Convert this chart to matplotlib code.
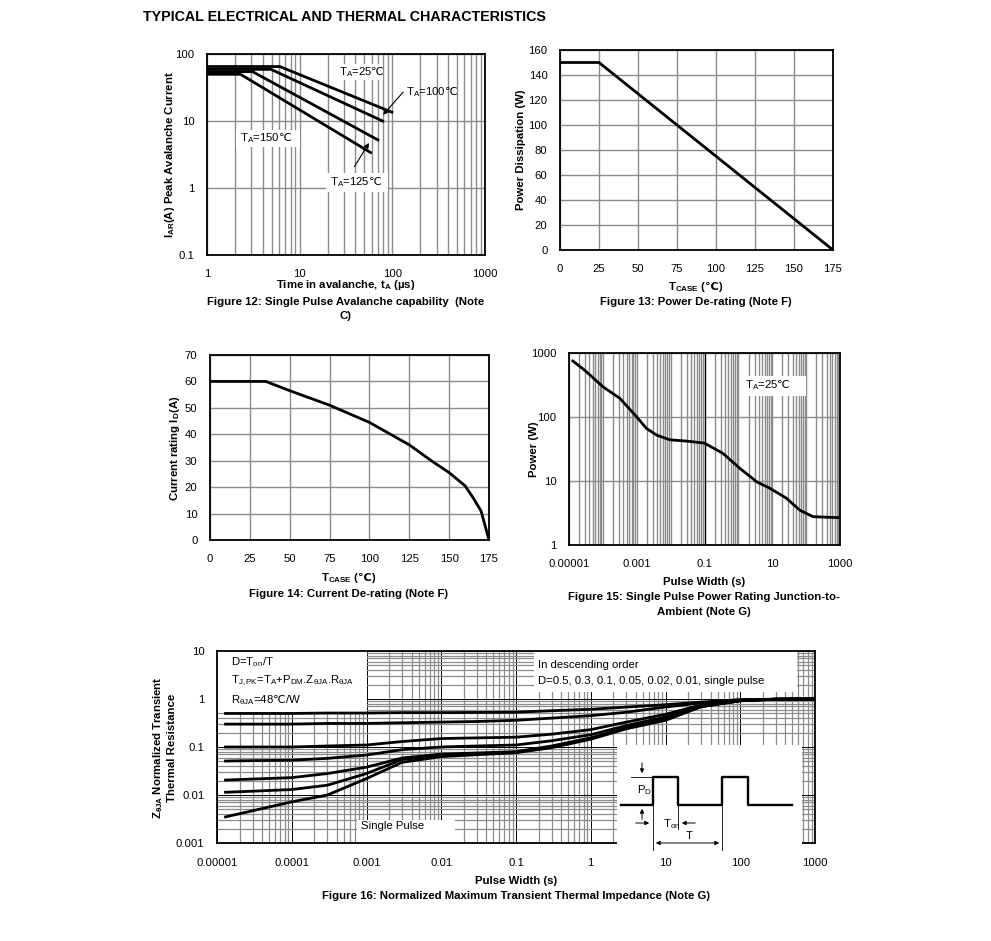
import numpy as np
import matplotlib
matplotlib.use('Agg')
import matplotlib.pyplot as plt
from matplotlib.ticker import LogLocator, NullFormatter
from matplotlib.patches import Rectangle

plt.rcParams['font.family'] = ['Liberation Sans', 'DejaVu Sans']
plt.rcParams['mathtext.fontset'] = 'custom'
plt.rcParams['mathtext.rm'] = 'Liberation Sans'
plt.rcParams['mathtext.bf'] = 'Liberation Sans:bold'
plt.rcParams['mathtext.it'] = 'Liberation Sans:italic'
# degree-celsius sign lives in DejaVu: tt = regular, sf = bold
plt.rcParams['mathtext.tt'] = 'DejaVu Sans'
plt.rcParams['mathtext.sf'] = 'DejaVu Sans:bold'
DEG = r'$\mathtt{℃}$'
DEG_B = r'$\mathsf{℃}$'

# ---- data ----
# Fig 12: avalanche current vs time
ta25_t = [1, 6.1, 102]
ta25_i = [65, 65, 13.3]
ta100_t = [1, 4.9, 81]
ta100_i = [59, 59, 9.8]
ta125_t = [1, 3.1, 72]
ta125_i = [54.5, 54.5, 5.1]
ta150_t = [1, 2.3, 60]
ta150_i = [49.8, 49.8, 3.3]

# Fig 13: power de-rating
pd_tcase = [0, 25, 175]
pd_watts = [150, 150, 0]

# Fig 14: current de-rating
id_tcase = [0, 35, 50, 75, 100, 125, 140, 150, 160, 165, 170, 175]
id_amps = [60, 60, 56.5, 51, 44.5, 36, 29.5, 25.5, 20.5, 16, 11, 0]

# Fig 15: single pulse power
sp_width = [1.3e-5, 3e-5, 1e-4, 3.2e-4, 1e-3, 1.95e-3, 3.9e-3, 9.5e-3, 0.03,
            0.1, 0.35, 1.1, 3.5, 8.5, 26, 65, 160, 1000]
sp_power = [750, 530, 297, 195, 100, 66, 52, 44, 42, 39, 27, 15.8, 9.7,
            7.7, 5.4, 3.5, 2.77, 2.67]

# Fig 16: normalized transient thermal impedance
zth_width = [1.3e-5, 3e-5, 1e-4, 3e-4, 1e-3, 3e-3, 1e-2, 3e-2, 1e-1, 0.3,
             1, 3, 10, 30, 100, 300, 1000]
zth_d050 = [0.50, 0.50, 0.50, 0.51, 0.51, 0.52, 0.52, 0.525, 0.53, 0.57,
            0.61, 0.68, 0.76, 0.86, 0.97, 0.99, 1.0]
zth_d030 = [0.30, 0.30, 0.30, 0.31, 0.31, 0.32, 0.33, 0.34, 0.36, 0.40,
            0.45, 0.53, 0.68, 0.83, 0.96, 0.99, 1.0]
zth_d010 = [0.10, 0.10, 0.10, 0.105, 0.11, 0.13, 0.15, 0.155, 0.16, 0.185,
            0.23, 0.33, 0.48, 0.75, 0.94, 0.99, 1.0]
zth_d005 = [0.051, 0.052, 0.053, 0.058, 0.068, 0.088, 0.10, 0.105, 0.11,
            0.135, 0.18, 0.28, 0.42, 0.72, 0.93, 0.99, 1.0]
zth_d002 = [0.0205, 0.0215, 0.023, 0.028, 0.038, 0.059, 0.071, 0.075, 0.08,
            0.105, 0.155, 0.25, 0.38, 0.70, 0.92, 0.99, 1.0]
zth_d001 = [0.0114, 0.012, 0.013, 0.016, 0.028, 0.055, 0.068, 0.072, 0.078,
            0.10, 0.15, 0.245, 0.37, 0.70, 0.92, 0.99, 1.0]
zth_single = [0.0035, 0.0047, 0.0072, 0.010, 0.022, 0.048, 0.063, 0.069, 0.076,
              0.097, 0.145, 0.24, 0.36, 0.69, 0.92, 0.99, 1.0]

# pulse sketch in the Fig 16 inset (pixel units of the inset)
pulse_x = [621, 653, 653, 678, 678, 722, 722, 748, 748, 792]
pulse_y = [805, 805, 777, 777, 805, 805, 777, 777, 805, 805]

W, H = 991, 941
GRID = '#8c8c8c'
TICK_FS = 8.1
LAB_FS = 8.2
LW = 2.0

fig = plt.figure(figsize=(W / 100, H / 100), dpi=100)


def add_ax(l, t, r, b):
    ax = fig.add_axes([l / W, 1 - b / H, (r - l) / W, (b - t) / H])
    ax.px = (l, t, r, b)
    for s in ax.spines.values():
        s.set_linewidth(1.3)
    ax.set_axisbelow(True)
    ax.tick_params(which='both', length=0, labelsize=TICK_FS)
    return ax


def ftext(x, y, s, **kw):
    kw.setdefault('va', 'center')
    kw.setdefault('fontsize', LAB_FS)
    fig.text(x / W, 1 - y / H, s, **kw)


def white_box(ax, l, t, r, b):
    L, T, R, B = ax.px
    ax.add_patch(Rectangle(((l - L) / (R - L), (B - b) / (B - T)),
                           (r - l) / (R - L), (b - t) / (B - T),
                           transform=ax.transAxes, facecolor='white',
                           edgecolor='none', zorder=1.5, clip_on=False))


def fpos(x, y):
    return (x / W, 1 - y / H)


# ---- title ----
ftext(143, 17, 'TYPICAL ELECTRICAL AND THERMAL CHARACTERISTICS',
      fontsize=10.3, weight='bold', ha='left')

# ---- Figure 12 ----
ax = add_ax(207, 54, 485, 255)
ax.set_xscale('log')
ax.set_yscale('log')
ax.set_xlim(1, 1000)
ax.set_ylim(0.1, 100)
ax.xaxis.set_minor_locator(LogLocator(base=10, subs=np.arange(2, 10), numticks=50))
ax.yaxis.set_minor_locator(LogLocator(base=10, subs=np.arange(2, 10), numticks=50))
ax.xaxis.set_minor_formatter(NullFormatter())
ax.yaxis.set_minor_formatter(NullFormatter())
ax.set_xticks([1, 10, 100, 1000], ['1', '10', '100', '1000'])
ax.set_yticks([0.1, 1, 10, 100], ['0.1', '1', '10', '100'])
ax.tick_params(axis='x', pad=10)
ax.tick_params(axis='y', pad=9)
ax.grid(which='both', axis='x', color=GRID, lw=1.0)
ax.grid(which='major', axis='y', color=GRID, lw=1.0)
for t, i in [(ta25_t, ta25_i), (ta100_t, ta100_i), (ta125_t, ta125_i), (ta150_t, ta150_i)]:
    ax.plot(t, i, color='black', lw=LW, zorder=3, solid_capstyle='butt')
white_box(ax, 335, 64, 383, 80)
white_box(ax, 236, 130, 300, 147)
white_box(ax, 326, 173, 388, 192)
ftext(339, 72, r'T$_{\mathrm{A}}$=25' + DEG)
ftext(406, 92, r'T$_{\mathrm{A}}$=100' + DEG)
ftext(240, 138, r'T$_{\mathrm{A}}$=150' + DEG)
ftext(330, 182, r'T$_{\mathrm{A}}$=125' + DEG)
ax.annotate('', xy=(76, 11.5), xycoords='data', xytext=fpos(405, 90),
            textcoords='figure fraction',
            arrowprops=dict(arrowstyle='-|>', color='black', lw=0.8, mutation_scale=7))
ax.annotate('', xy=(58, 5.1), xycoords='data', xytext=fpos(353, 169),
            textcoords='figure fraction',
            arrowprops=dict(arrowstyle='-|>', color='black', lw=0.8, mutation_scale=7))
ftext(170, 155, r'$\mathbf{I_{AR}}$(A) Peak Avalanche Current', weight='bold',
      rotation=90, ha='center')
ftext(346, 285, r'Time in avalanche, t$_{\mathbf{A}}$ (µs)', weight='bold', ha='center')
ftext(346, 302, 'Figure 12: Single Pulse Avalanche capability  (Note', weight='bold', ha='center')
ftext(346, 316, 'C)', weight='bold', ha='center')

# ---- Figure 13 ----
ax = add_ax(560, 50, 833, 250)
ax.set_xlim(0, 175)
ax.set_ylim(0, 160)
ax.set_xticks(np.arange(0, 176, 25))
ax.set_yticks(np.arange(0, 161, 20))
ax.tick_params(axis='x', pad=10)
ax.tick_params(axis='y', pad=9)
ax.grid(color=GRID, lw=1.0)
ax.plot(pd_tcase, pd_watts, color='black', lw=LW, zorder=3)
ftext(521, 150, 'Power Dissipation (W)', weight='bold', rotation=90, ha='center')
ftext(696, 287, r'T$_{\mathbf{CASE}}$ (' + DEG_B + ')', weight='bold', ha='center')
ftext(696, 302, 'Figure 13: Power De-rating (Note F)', weight='bold', ha='center')

# ---- Figure 14 ----
ax = add_ax(210, 355, 489, 540)
ax.set_xlim(0, 175)
ax.set_ylim(0, 70)
ax.set_xticks(np.arange(0, 176, 25))
ax.set_yticks(np.arange(0, 71, 10))
ax.tick_params(axis='x', pad=10)
ax.tick_params(axis='y', pad=9)
ax.grid(color=GRID, lw=1.0)
ax.plot(id_tcase, id_amps, color='black', lw=LW, zorder=3)
ftext(175, 448, r'Current rating I$_{\mathbf{D}}$(A)', weight='bold', rotation=90, ha='center')
ftext(349, 578, r'T$_{\mathbf{CASE}}$ (' + DEG_B + ')', weight='bold', ha='center')
ftext(349, 594, 'Figure 14: Current De-rating (Note F)', weight='bold', ha='center')

# ---- Figure 15 ----
ax = add_ax(569, 353, 840, 545)
ax.set_xscale('log')
ax.set_yscale('log')
ax.set_xlim(1e-5, 1000)
ax.set_ylim(1, 1000)
ax.xaxis.set_minor_locator(LogLocator(base=10, subs=np.arange(1, 10), numticks=100))
ax.yaxis.set_minor_locator(LogLocator(base=10, subs=np.arange(2, 10), numticks=50))
ax.xaxis.set_minor_formatter(NullFormatter())
ax.yaxis.set_minor_formatter(NullFormatter())
ax.set_xticks([1e-5, 1e-3, 1e-1, 10, 1000], ['0.00001', '0.001', '0.1', '10', '1000'])
ax.set_yticks([1, 10, 100, 1000], ['1', '10', '100', '1000'])
ax.tick_params(axis='x', pad=10)
ax.tick_params(axis='y', pad=9)
ax.grid(which='both', axis='x', color=GRID, lw=1.0)
ax.grid(which='major', axis='y', color=GRID, lw=1.0)
ax.axvline(0.1, color='black', lw=0.9, zorder=1)
ax.plot(sp_width, sp_power, color='black', lw=LW, zorder=3)
white_box(ax, 740, 376, 806, 396)
ftext(745, 385, r'T$_{\mathrm{A}}$=25' + DEG)
ftext(534, 449, 'Power (W)', weight='bold', rotation=90, ha='center')
ftext(704, 582, 'Pulse Width (s)', weight='bold', ha='center')
ftext(704, 597, 'Figure 15: Single Pulse Power Rating Junction-to-', weight='bold', ha='center')
ftext(704, 612, 'Ambient (Note G)', weight='bold', ha='center')

# ---- Figure 16 ----
ax = add_ax(217, 651, 815, 843)
ax.set_xscale('log')
ax.set_yscale('log')
ax.set_xlim(1e-5, 1000)
ax.set_ylim(1e-3, 10)
ax.xaxis.set_minor_locator(LogLocator(base=10, subs=np.arange(2, 10), numticks=100))
ax.yaxis.set_minor_locator(LogLocator(base=10, subs=np.arange(2, 10), numticks=100))
ax.xaxis.set_minor_formatter(NullFormatter())
ax.yaxis.set_minor_formatter(NullFormatter())
ax.set_xticks([1e-5, 1e-4, 1e-3, 1e-2, 1e-1, 1, 10, 100, 1000],
              ['0.00001', '0.0001', '0.001', '0.01', '0.1', '1', '10', '100', '1000'])
ax.set_yticks([1e-3, 1e-2, 1e-1, 1, 10], ['0.001', '0.01', '0.1', '1', '10'])
ax.tick_params(axis='x', pad=11)
ax.tick_params(axis='y', pad=9)
ax.grid(which='minor', color=GRID, lw=0.9)
ax.grid(which='major', color='black', lw=0.7)
for z in [zth_d050, zth_d030, zth_d010, zth_d005, zth_d002, zth_d001, zth_single]:
    ax.plot(zth_width, z, color='black', lw=LW, zorder=3)
white_box(ax, 217, 651, 367, 712)
white_box(ax, 534, 651, 797, 692)
white_box(ax, 357, 820, 455, 843)
ftext(231, 662, r'D=T$_{\mathrm{on}}$/T')
ftext(231, 681, r'T$_{\mathrm{J,PK}}$=T$_{\mathrm{A}}$+P$_{\mathrm{DM}}$.Z$_{\mathrm{\theta JA}}$.R$_{\mathrm{\theta JA}}$')
ftext(231, 700, r'R$_{\mathrm{\theta JA}}$=48' + DEG + '/W')
ftext(538, 665, 'In descending order')
ftext(538, 681, 'D=0.5, 0.3, 0.1, 0.05, 0.02, 0.01, single pulse')
ftext(361, 826, 'Single Pulse')
ftext(158, 748, r'$\mathbf{Z_{\theta JA}}$ Normalized Transient', weight='bold',
      rotation=90, ha='center')
ftext(172, 748, 'Thermal Resistance', weight='bold', rotation=90, ha='center')
ftext(516, 881, 'Pulse Width (s)', weight='bold', ha='center')
ftext(516, 896, 'Figure 16: Normalized Maximum Transient Thermal Impedance (Note G)',
      weight='bold', ha='center')

# inset pulse sketch
ins = add_ax(617, 745, 802, 852)
ins.set_zorder(5)
ins.set_facecolor('white')
for s in ins.spines.values():
    s.set_visible(False)
ins.set_xticks([])
ins.set_yticks([])
ins.set_xlim(617, 802)
ins.set_ylim(852, 745)
ins.plot(pulse_x, pulse_y, color='black', lw=1.7)
thin = dict(color='black', lw=0.6)
ins.plot([631, 653], [777, 777], **thin)
ins.plot([653, 653], [805, 850], **thin)
ins.plot([722, 722], [805, 850], **thin)
ins.plot([678, 678], [805, 829], **thin)
arr = dict(arrowstyle='-|>', color='black', lw=0.7, mutation_scale=6)
ins.annotate('', xy=(642, 776), xytext=(642, 760), arrowprops=arr)
ins.annotate('', xy=(642, 806), xytext=(642, 822), arrowprops=arr)
ins.annotate('', xy=(652, 823), xytext=(633, 823), arrowprops=arr)
ins.annotate('', xy=(679, 823), xytext=(698, 823), arrowprops=arr)
ins.annotate('', xy=(653, 843), xytext=(722, 843),
             arrowprops=dict(arrowstyle='<|-|>', color='black', lw=0.7, mutation_scale=6))
ins.text(637, 790, r'P$_{\mathrm{D}}$', fontsize=LAB_FS, va='center')
ins.text(663, 824, r'T$_{\mathrm{on}}$', fontsize=LAB_FS, va='center')
ins.text(686, 836, 'T', fontsize=LAB_FS, va='center')

fig.savefig('out.png', dpi=100)
